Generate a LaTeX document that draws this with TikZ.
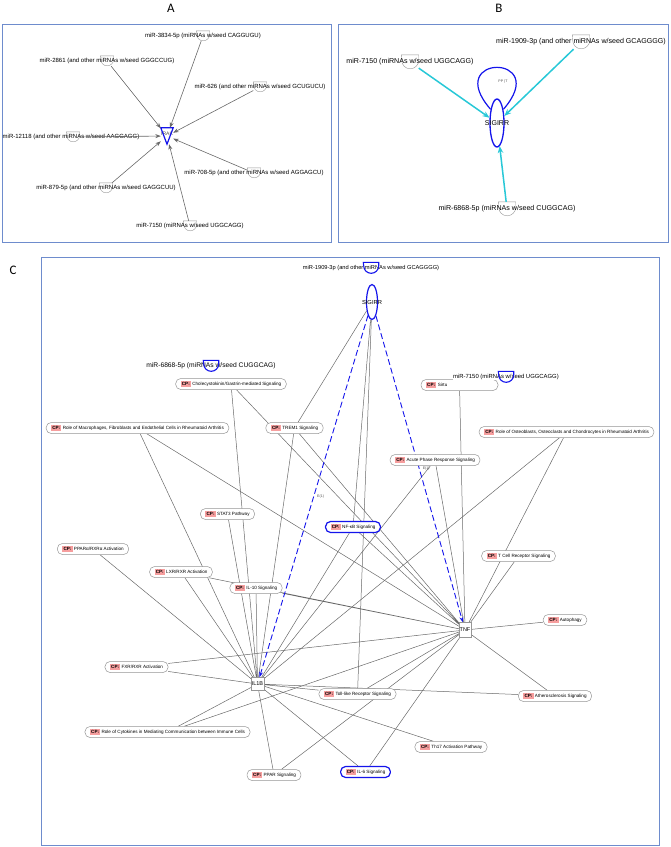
\documentclass[tikz,border=0pt]{standalone}
\usepackage{fontspec}
\setmainfont{Liberation Sans}
\newfontfamily\panelfont{Carlito}
\usetikzlibrary{arrows.meta,shapes.geometric}

\definecolor{framecol}{RGB}{110,140,205}
\definecolor{edgegray}{RGB}{105,105,105}
\definecolor{nodegray}{RGB}{150,150,150}
\definecolor{cppink}{RGB}{246,158,158}
\definecolor{mircyan}{RGB}{40,200,215}
\definecolor{selblue}{RGB}{20,20,235}

% pink pathway tag
\newcommand{\cp}{{\setlength{\fboxsep}{1.2pt}\colorbox{cppink}{\vphantom{Ag}\textbf{CP:}}}}
% microRNA outline drawn round a named node
\newcommand{\mirna}[4]{\draw[#4] (#1.north west) -- (#1.north east) -- ++(0,#3-#2/2) arc[start angle=0,end angle=180,radius=#2/2] -- cycle;}

\pgfdeclarelayer{back}
\pgfsetlayers{back,main}

\begin{document}
\begin{tikzpicture}[x=1pt, y=-1pt,
    >={Stealth[length=5.5pt,width=4pt]},
    frame/.style={draw=framecol, line width=0.8pt},
    panel/.style={font=\panelfont\fontsize{13}{13}\selectfont},
    mirtext/.style={font=\fontsize{#1}{#1}\selectfont, inner sep=0pt},
    mirshape/.style 2 args={minimum width=#1, minimum height=#2, inner sep=0pt},
    cpnode/.style={draw=nodegray, fill=white, rounded corners=5pt, minimum height=11pt,
      inner xsep=5pt, inner ysep=0pt, line width=0.5pt, font=\fontsize{4.6}{5}\selectfont},
    selnode/.style={cpnode, draw=selblue, line width=1.2pt},
    molbox/.style={draw=nodegray, fill=white, line width=0.5pt, inner sep=0.6pt,
      minimum width=11pt, minimum height=13pt, font=\fontsize{5.5}{6}\selectfont},
    link/.style={draw=edgegray, line width=0.5pt},
    aarrow/.style={draw=edgegray, line width=0.6pt, ->},
    barrow/.style={draw=mircyan, line width=1.5pt, ->, >={Stealth[length=7pt,width=5.5pt]}},
    inhib/.style={draw=selblue, line width=0.9pt, dash pattern=on 6pt off 3pt, ->},
    elabel/.style={font=\fontsize{3.6}{4}\selectfont, text=black!70, inner sep=1pt}]
  \useasboundingbox (0,0) rectangle (671,847);

  % Panel A
  \draw[frame] (2,24) rectangle (331,242);
  \node[panel] (labA) at (171,8) {A};
  \node[minimum width=12pt, minimum height=16pt, inner sep=0pt] (hub) at (167,136) {};
  \node[font=\fontsize{5}{5}\selectfont, text=black!70] (hubname) at (167,134) {IRAK};
  \draw[selblue, line width=1.2pt] (hub.north west) -- (hub.north east) -- (hub.south) -- cycle;

  \node[mirshape={13}{10}] (a1) at (203,36) {};
  \node[mirshape={13}{10}] (a2) at (107,61) {};
  \node[mirshape={13}{10}] (a3) at (260,87) {};
  \node[mirshape={13}{10}] (a4) at (73,137) {};
  \node[mirshape={13}{10}] (a5) at (254,173) {};
  \node[mirshape={13}{10}] (a6) at (106,188) {};
  \node[mirshape={13}{10}] (a7) at (190,226) {};
  \mirna{a1}{13}{10}{nodegray}
  \mirna{a2}{13}{10}{nodegray}
  \mirna{a3}{13}{10}{nodegray}
  \mirna{a4}{13}{10}{nodegray}
  \mirna{a5}{13}{10}{nodegray}
  \mirna{a6}{13}{10}{nodegray}
  \mirna{a7}{13}{10}{nodegray}
  \node[mirtext=6] (ta1) at (a1) {miR-3834-5p (miRNAs w/seed CAGGUGU)};
  \node[mirtext=6] (ta2) at (a2) {miR-2861 (and other miRNAs w/seed GGGCCUG)};
  \node[mirtext=6] (ta3) at (a3) {miR-626 (and other miRNAs w/seed GCUGUCU)};
  \node[mirtext=6] (ta4) at (71,137) {miR-12118 (and other miRNAs w/seed AAGGAGG)};
  \node[mirtext=6] (ta5) at (a5) {miR-708-5p (and other miRNAs w/seed AGGAGCU)};
  \node[mirtext=6] (ta6) at (a6) {miR-879-5p (and other miRNAs w/seed GAGGCUU)};
  \node[mirtext=6] (ta7) at (a7) {miR-7150 (miRNAs w/seed UGGCAGG)};
  \draw[aarrow] (a1) -- (hub);
  \draw[aarrow] (a2) -- (hub);
  \draw[aarrow] (a3) -- (hub);
  \draw[aarrow] (a4) -- (hub);
  \draw[aarrow] (a5) -- (hub);
  \draw[aarrow] (a6) -- (hub);
  \draw[aarrow] (a7) -- (hub);

  % Panel B
  \draw[frame] (338,24) rectangle (668,242);
  \node[panel] (labB) at (499,8) {B};
  \node[ellipse, draw=selblue, line width=1.3pt, minimum width=14pt, minimum height=48pt, inner sep=0pt] (sigB) at (497,123) {};
  \node[font=\fontsize{7}{7}\selectfont] (sigBname) at (497,123) {SIGIRR};
  \draw[selblue, line width=1.2pt] (sigB.115) .. controls +(-49,-56) and +(49,-56) .. (sigB.65);
  \node[elabel] (loopB) at (503,82) {PP\,|\,T};

  \node[mirshape={17}{14}] (b1) at (410,62) {};
  \node[mirshape={17}{14}] (b2) at (581,42) {};
  \node[mirshape={17}{14}] (b3) at (507,209) {};
  \mirna{b1}{17}{14}{nodegray}
  \mirna{b2}{17}{14}{nodegray}
  \mirna{b3}{17}{14}{nodegray}
  \node[mirtext=7.1] (tb1) at (b1) {miR-7150 (miRNAs w/seed UGGCAGG)};
  \node[mirtext=7.1] (tb2) at (b2) {miR-1909-3p (and other miRNAs w/seed GCAGGGG)};
  \node[mirtext=7.1] (tb3) at (b3) {miR-6868-5p (miRNAs w/seed CUGGCAG)};
  \draw[barrow] (b1) -- (sigB);
  \draw[barrow] (b2) -- (sigB);
  \draw[barrow] (b3) -- (sigB);

  % Panel C
  \draw[frame] (41,257) rectangle (659,845);
  \node[panel] (labC) at (13,270) {C};

  % molecules
  \node[ellipse, draw=selblue, fill=white, line width=1.2pt, minimum width=11pt, minimum height=35pt, inner sep=0pt] (sigC) at (372,302) {};
  \node[font=\fontsize{5.8}{6}\selectfont] (sigCname) at (372,302) {SIGIRR};
  \node[molbox] (il1b) at (257.5,684) {IL1B};
  \node[molbox, minimum height=15pt] (tnf) at (465,630) {TNF};

  % canonical pathways
  \node[cpnode] (chole) at (231,384) {\cp\ Cholecystokinin/Gastrin-mediated Signaling};
  \node[cpnode] (mac) at (137.5,428) {\cp\ Role of Macrophages, Fibroblasts and Endothelial Cells in Rheumatoid Arthritis};
  \node[cpnode] (trem) at (294.5,428) {\cp\ TREM1 Signaling};
  \node[cpnode, text width=67pt, align=left] (sirt) at (459.5,385) {\cp\ Sirtu};
  \node[cpnode] (osteo) at (566.5,432) {\cp\ Role of Osteoblasts, Osteoclasts and Chondrocytes in Rheumatoid Arthritis};
  \node[cpnode] (acute) at (435,460) {\cp\ Acute Phase Response Signaling};
  \node[cpnode] (stat3) at (227.5,514) {\cp\ STAT3 Pathway};
  \node[selnode] (nfkb) at (353,527) {\cp\ NF-κB Signaling};
  \node[cpnode] (ppara) at (93,549) {\cp\ PPARα/RXRα Activation};
  \node[cpnode] (tcell) at (518.5,556) {\cp\ T Cell Receptor Signaling};
  \node[cpnode] (lxr) at (181,572) {\cp\ LXR/RXR Activation};
  \node[cpnode] (il10) at (256,588) {\cp\ IL-10 Signaling};
  \node[cpnode] (autoph) at (565,620) {\cp\ Autophagy};
  \node[cpnode] (fxr) at (136.5,667) {\cp\ FXR/RXR Activation};
  \node[cpnode] (toll) at (357.5,694) {\cp\ Toll-like Receptor Signaling};
  \node[cpnode] (ather) at (555,696) {\cp\ Atherosclerosis Signaling};
  \node[cpnode] (cyto) at (167.5,732) {\cp\ Role of Cytokines in Mediating Communication between Immune Cells};
  \node[cpnode] (th17) at (451,747) {\cp\ Th17 Activation Pathway};
  \node[cpnode] (ppar) at (274,775) {\cp\ PPAR Signaling};
  \node[selnode] (il6) at (365.5,772) {\cp\ IL-6 Signaling};

  % microRNAs (selected)
  \node[mirshape={15}{11}] (c1) at (371,268) {};
  \node[mirshape={15}{11}] (c2) at (211,366) {};
  \node[mirshape={15}{11}] (c3) at (506,377) {};
  \node[mirtext=5.7] (tc1) at (c1) {miR-1909-3p (and other miRNAs w/seed GCAGGGG)};
  \node[mirtext=6.7] (tc2) at (c2) {miR-6868-5p (miRNAs w/seed CUGGCAG)};
  \node[mirtext=5.9, fill=white, inner sep=0.6pt] (tc3) at (c3) {miR-7150 (miRNAs w/seed UGGCAGG)};
  \mirna{c1}{15}{11}{selblue, line width=1.1pt}
  \mirna{c2}{15}{11}{selblue, line width=1.1pt}
  \mirna{c3}{15}{11}{selblue, line width=1.1pt}

  % relations behind the nodes
  \begin{pgfonlayer}{back}
    \draw[link] (mac) -- (il1b) (chole) -- (il1b) (trem) -- (il1b) (stat3) -- (il1b)
      (ppara) -- (il1b) (lxr) -- (il1b) (il10) -- (il1b) (fxr) -- (il1b) (cyto) -- (il1b)
      (ppar) -- (il1b) (nfkb) -- (il1b) (acute) -- (il1b) (osteo) -- (il1b) (toll) -- (il1b)
      (ather) -- (il1b) (th17) -- (il1b) (il6) -- (il1b);
    \draw[link] (mac) -- (tnf) (chole) -- (tnf) (trem) -- (tnf) (lxr) -- (tnf) (il10) -- (tnf)
      (fxr) -- (tnf) (cyto) -- (tnf) (ppar) -- (tnf) (nfkb) -- (tnf) (acute) -- (tnf)
      (osteo) -- (tnf) (sirt) -- (tnf) (tcell) -- (tnf) (autoph) -- (tnf) (toll) -- (tnf)
      (ather) -- (tnf) (il6) -- (tnf);
    \draw[link] (sigC) -- (trem) (sigC) -- (nfkb) (sigC) -- (toll);
    % inhibition by SIGIRR
    \draw[inhib] (sigC) -- node[elabel, right=2pt] (e1) {E(1)} (il1b);
    \draw[inhib] (sigC) -- node[elabel, right=2pt] (e2) {E(1)} (tnf);
  \end{pgfonlayer}
\end{tikzpicture}
\end{document}
